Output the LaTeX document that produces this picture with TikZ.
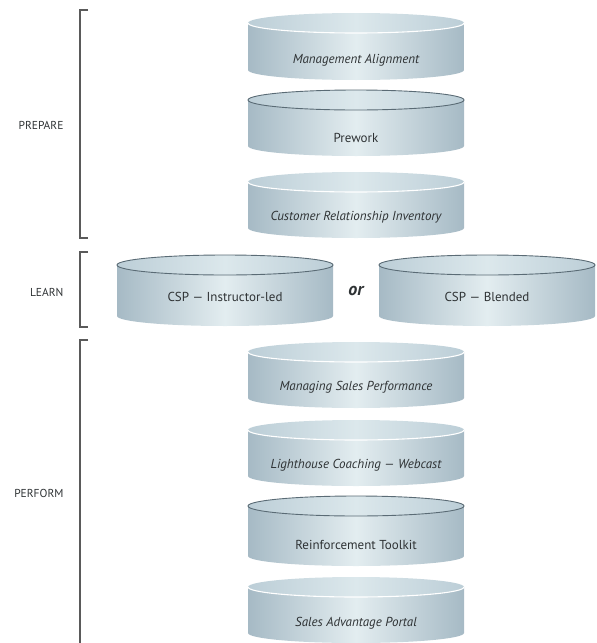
\documentclass[tikz,border=0pt]{standalone}
\usepackage{fontspec}
\newfontfamily\lblfont{PT Sans}
\definecolor{cylEdge}{HTML}{A6BAC5}
\definecolor{cylMid}{HTML}{E3EDF0}
\definecolor{topEdge}{HTML}{BCCED7}
\definecolor{topMid}{HTML}{DCE8EC}
\definecolor{ringCol}{HTML}{5A6B75}
\definecolor{txtCol}{HTML}{2E3234}
\definecolor{brkCol}{HTML}{5A5A5A}
\tikzset{
  cylbody/.style={left color=cylEdge,right color=cylEdge,middle color=cylMid},
  cyltop/.style={left color=topEdge,right color=topEdge,middle color=topMid},
  toprim/.style={draw=white,line width=1.1pt},
  topring/.style={draw=ringCol,line width=0.9pt},
  cyltext/.style={font=\lblfont\fontsize{13}{15}\selectfont,text=txtCol},
  cylit/.style={cyltext,font=\lblfont\itshape\fontsize{13}{15}\selectfont},
  phase/.style={font=\lblfont\fontsize{11.5}{13}\selectfont,text=txtCol,anchor=east},
  brk/.style={draw=brkCol,line width=1.1pt}
}
% #1 cx, #2 top, #3 bottom, #4 half width, #5 ring (1) or rim (0)
\newcommand\Cyl[5]{%
  \pgfmathsetmacro\cylyt{#2+10}%
  \pgfmathsetmacro\cylyb{#3-10}%
  \path[cylbody] (#1-#4,\cylyt) -- (#1-#4,\cylyb)
     arc[start angle=180,end angle=360,x radius=#4pt,y radius=10pt]
     -- (#1+#4,\cylyt) -- cycle;
  \path[cyltop] (#1,\cylyt) ellipse [x radius=#4pt,y radius=10pt];
  \ifnum#5=1
    \path[topring] (#1,\cylyt) ellipse [x radius=#4pt,y radius=10pt];
  \else
    \path[toprim] (#1-#4,\cylyt) arc[start angle=180,end angle=360,x radius=#4pt,y radius=10pt];
  \fi
}
\begin{document}
\begin{tikzpicture}[x=1pt,y=-1pt]
\useasboundingbox (0,0) rectangle (597,643);
% brackets
\draw[brk] (88,10) -- (80,10) -- (80,238) -- (88,238);
\draw[brk] (88,252) -- (80,252) -- (80,327) -- (88,327);
\draw[brk] (88,340) -- (80,340) -- (80,643);
\node[phase] (prep) at (67,125) {PREPARE};
\node[phase] (learn) at (67,292) {LEARN};
\node[phase] (perf) at (67,493) {PERFORM};
% cylinders
\Cyl{356}{13}{80}{108}{0}
\node[cylit] (ma) at (356,60) {Management Alignment};
\Cyl{356}{90}{156}{108}{1}
\node[cyltext] (pw) at (356,138) {Prework};
\Cyl{356}{172}{238}{108}{0}
\node[cylit] (cri) at (356,217) {Customer Relationship Inventory};
\Cyl{225}{255}{326}{108}{1}
\node[cyltext] (csp1) at (225,297) {CSP — Instructor-led};
\Cyl{487}{255}{326}{108}{1}
\node[cyltext] (csp2) at (487,297) {CSP — Blended};
\node[font=\lblfont\bfseries\itshape\fontsize{18}{20}\selectfont,text=txtCol] (or) at (356,291) {or};
\Cyl{356}{342}{408}{108}{0}
\node[cylit] (msp) at (356,387) {Managing Sales Performance};
\Cyl{356}{420}{486}{108}{0}
\node[cylit] (lhc) at (356,465) {Lighthouse Coaching — Webcast};
\Cyl{356}{496}{566}{108}{1}
\node[cyltext] (rt) at (356,545) {Reinforcement Toolkit};
\Cyl{356}{577}{643}{108}{0}
\node[cylit] (sap) at (356,623) {Sales Advantage Portal};
\end{tikzpicture}
\end{document}
